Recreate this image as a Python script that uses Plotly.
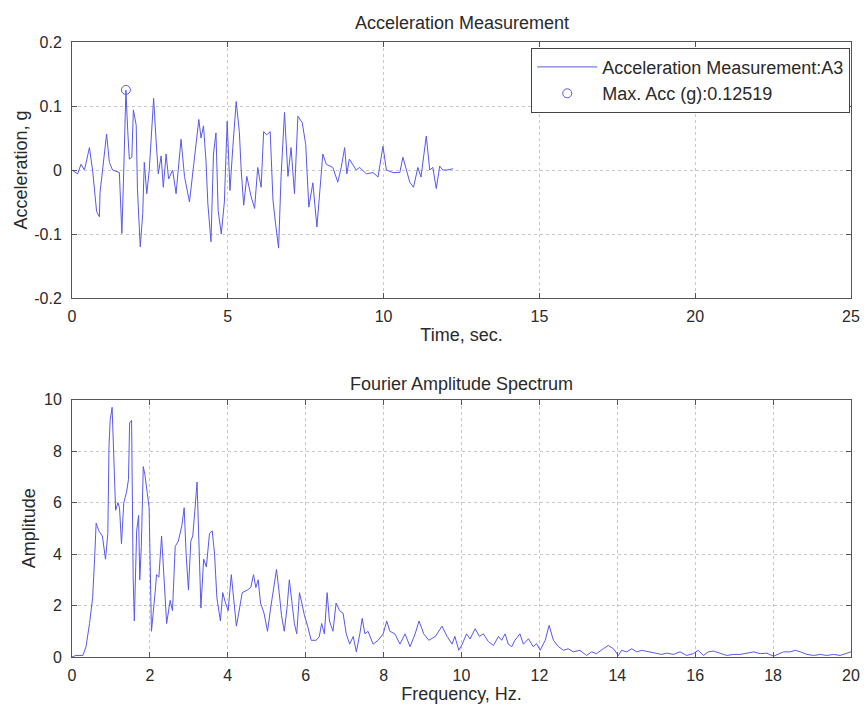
import plotly.graph_objects as go

# Acceleration time history (sec, g)
acc_time = [0, 0.18, 0.29, 0.4, 0.56, 0.66, 0.79, 0.88, 0.9, 1.0, 1.11, 1.2, 1.3, 1.52, 1.6, 1.65,
            1.71, 1.73, 1.79, 1.84, 1.92, 1.97, 2.06, 2.1, 2.19, 2.27, 2.32, 2.4, 2.48, 2.62, 2.7,
            2.77, 2.86, 2.93, 3.02, 3.1, 3.23, 3.34, 3.5, 3.61, 3.77, 3.93, 4.07, 4.14, 4.22, 4.3,
            4.36, 4.46, 4.54, 4.62, 4.69, 4.79, 4.89, 4.98, 5.07, 5.16, 5.27, 5.37, 5.43, 5.51,
            5.61, 5.75, 5.86, 5.96, 6.07, 6.15, 6.25, 6.36, 6.45, 6.53, 6.63, 6.71, 6.82, 6.93,
            7.03, 7.14, 7.25, 7.39, 7.5, 7.6, 7.73, 7.86, 7.94, 8.05, 8.16, 8.37, 8.53, 8.64,
            8.75, 8.82, 8.9, 9.01, 9.12, 9.23, 9.45, 9.66, 9.82, 9.98, 10.09, 10.3, 10.52, 10.62,
            10.73, 10.84, 10.96, 11.1, 11.2, 11.37, 11.48, 11.58, 11.69, 11.8, 11.9, 12.06, 12.23]
acc_vals = [0, -0.006, 0.009, 0.0, 0.035, 0.0, -0.065, -0.073, -0.035, 0.01, 0.056, 0.012, 0.0,
            -0.004, -0.099, -0.02, 0.1125, 0.125, 0.06, 0.017, 0.02, 0.094, 0.07, -0.03, -0.12,
            -0.068, 0.012, -0.037, 0.0, 0.112, 0.045, -0.006, 0.022, -0.027, 0.025, -0.014, 0.0,
            -0.037, 0.048, -0.01, -0.05, 0.022, 0.079, 0.05, 0.069, 0.014, -0.053, -0.112, 0.025,
            0.058, -0.063, -0.1, -0.05, 0.076, -0.032, 0.035, 0.107, 0.06, 0.0, -0.055, -0.01,
            -0.042, -0.06, 0.004, -0.027, 0.06, 0.055, 0.06, -0.047, -0.083, -0.122, -0.01, 0.09,
            -0.01, 0.035, -0.037, 0.084, 0.074, 0.04, -0.058, -0.02, -0.089, -0.037, 0.025, 0.009,
            0.004, -0.019, 0.004, 0.035, -0.006, 0.017, 0.009, 0.0, 0.004, -0.006, -0.004, -0.011,
            0.037, 0.0, -0.004, -0.004, 0.02, 0.0, -0.019, -0.027, 0.004, -0.011, 0.053, 0.0, 0.004,
            -0.029, 0.006, 0.0, 0.0, 0.002]

max_time = [1.73]
max_acc = [0.12519]

# Fourier amplitude spectrum (Hz, amplitude)
fas_freq = [0, 0.1, 0.28, 0.36, 0.45, 0.53, 0.58, 0.62, 0.69, 0.78, 0.86, 0.92, 0.95, 0.98, 1.03,
            1.07, 1.12, 1.18, 1.22, 1.27, 1.33, 1.4, 1.45, 1.48, 1.53, 1.57, 1.6, 1.66, 1.71, 1.74,
            1.78, 1.83, 1.87, 1.93, 1.98, 2.04, 2.09, 2.14, 2.17, 2.23, 2.3, 2.36, 2.43, 2.52, 2.58,
            2.65, 2.73, 2.82, 2.88, 2.93, 2.99, 3.05, 3.1, 3.16, 3.21, 3.25, 3.31, 3.38, 3.45, 3.53,
            3.6, 3.66, 3.72, 3.81, 3.87, 3.94, 4.01, 4.09, 4.16, 4.22, 4.28, 4.37, 4.5, 4.59, 4.66,
            4.72, 4.78, 4.84, 4.93, 5.02, 5.1, 5.19, 5.25, 5.32, 5.38, 5.45, 5.52, 5.58, 5.64, 5.71,
            5.77, 5.84, 5.9, 5.97, 6.05, 6.14, 6.27, 6.35, 6.41, 6.48, 6.55, 6.61, 6.7, 6.78, 6.87,
            6.96, 7.04, 7.13, 7.22, 7.3, 7.39, 7.45, 7.52, 7.6, 7.73, 7.86, 7.99, 8.08, 8.16, 8.29,
            8.42, 8.55, 8.68, 8.81, 8.91, 9.03, 9.16, 9.33, 9.5, 9.63, 9.76, 9.83, 9.93, 10.02,
            10.13, 10.22, 10.35, 10.46, 10.56, 10.69, 10.82, 10.95, 11.03, 11.12, 11.2, 11.29,
            11.37, 11.5, 11.59, 11.72, 11.84, 11.93, 12.02, 12.15, 12.25, 12.36, 12.49, 12.62,
            12.74, 12.87, 13.04, 13.21, 13.34, 13.47, 13.64, 13.77, 13.9, 14.03, 14.11, 14.24,
            14.37, 14.5, 14.63, 14.8, 14.97, 15.14, 15.27, 15.44, 15.61, 15.78, 15.95, 16.08,
            16.21, 16.34, 16.47, 16.64, 16.81, 16.98, 17.15, 17.33, 17.5, 17.67, 17.84, 18.01,
            18.14, 18.27, 18.44, 18.57, 18.7, 18.87, 19.04, 19.21, 19.38, 19.55, 19.72, 19.9, 20.0]
fas_amp = [0, 0.06, 0.06, 0.4, 1.3, 2.3, 3.8, 5.2, 4.9, 4.7, 3.8, 4.8, 8.2, 9.2, 9.7, 8.2, 5.7,
           6.0, 5.8, 4.4, 6.0, 6.4, 6.9, 9.1, 9.2, 3.1, 1.4, 4.9, 5.5, 3.0, 4.3, 7.4, 7.1, 6.4,
           5.8, 1.0, 1.7, 2.6, 3.2, 3.1, 4.7, 2.9, 1.3, 2.2, 1.8, 4.3, 4.5, 5.1, 5.8, 4.0, 2.6,
           4.5, 4.7, 5.8, 6.8, 4.9, 1.9, 3.8, 3.5, 4.8, 4.9, 4.0, 2.3, 1.4, 2.5, 2.1, 1.8, 3.2,
           2.2, 1.2, 1.7, 2.5, 2.6, 2.7, 3.2, 2.7, 3.0, 2.1, 1.7, 1.0, 1.9, 2.7, 3.4, 2.5, 1.6,
           1.0, 1.9, 3.0, 2.2, 1.3, 0.9, 2.5, 2.1, 1.6, 1.2, 0.65, 0.65, 0.8, 1.3, 0.9, 2.5, 1.4,
           1.0, 2.1, 1.8, 1.7, 0.9, 0.5, 0.8, 0.2, 0.9, 1.5, 0.9, 1.0, 0.5, 0.65, 0.9, 1.4, 1.0,
           0.9, 0.5, 0.9, 0.4, 0.9, 1.4, 0.9, 0.65, 0.8, 1.2, 0.8, 0.5, 0.8, 0.26, 0.5, 0.9, 0.7,
           1.1, 0.8, 0.9, 0.6, 0.45, 0.8, 0.65, 0.9, 0.5, 0.4, 0.65, 0.9, 0.5, 0.71, 0.4, 0.52,
           0.26, 0.65, 1.23, 0.65, 0.4, 0.26, 0.32, 0.2, 0.26, 0.06, 0.2, 0.13, 0.32, 0.45, 0.32,
           0.06, 0.26, 0.2, 0.32, 0.2, 0.26, 0.2, 0.13, 0.1, 0.15, 0.1, 0.2, 0.06, 0.13, 0.26,
           0.06, 0.2, 0.23, 0.13, 0.06, 0.1, 0.1, 0.15, 0.2, 0.13, 0.15, 0.03, 0.13, 0.2, 0.2,
           0.26, 0.2, 0.1, 0.06, 0.1, 0.06, 0.1, 0.06, 0.15, 0.2]

x1_ticks = [0, 5, 10, 15, 20, 25]
y1_ticks = [-0.2, -0.1, 0, 0.1, 0.2]
y1_labels = ["-0.2", "-0.1", "0", "0.1", "0.2"]
x2_ticks = [0, 2, 4, 6, 8, 10, 12, 14, 16, 18, 20]
y2_ticks = [0, 2, 4, 6, 8, 10]

LINE = "#5858ee"
FONT = "Liberation Sans, Arial, sans-serif"
TXT = "#2a2a2a"

fig = go.Figure()
fig.add_trace(go.Scatter(x=acc_time, y=acc_vals, mode="lines", name="Acceleration Measurement:A3",
                         line=dict(color=LINE, width=1), xaxis="x", yaxis="y"))
fig.add_trace(go.Scatter(x=max_time, y=max_acc, mode="markers", name="Max. Acc (g):0.12519",
                         marker=dict(symbol="circle-open", size=9, color=LINE, line=dict(width=1)),
                         xaxis="x", yaxis="y"))
fig.add_trace(go.Scatter(x=fas_freq, y=fas_amp, mode="lines", showlegend=False,
                         line=dict(color=LINE, width=1), xaxis="x2", yaxis="y2"))

axis_common = dict(showline=True, linecolor="#555", linewidth=1, mirror="ticks", ticks="inside",
                   ticklen=5, tickcolor="#555", showgrid=True, gridcolor="#c8c8c8", griddash="dot",
                   gridwidth=1, zeroline=False, automargin=False,
                   tickfont=dict(size=16, color=TXT, family=FONT))

fig.update_layout(
    width=866, height=708, paper_bgcolor="white", plot_bgcolor="white",
    margin=dict(l=72, r=15, t=42, b=51),
    font=dict(family=FONT, color=TXT),
    xaxis=dict(domain=[0, 1], range=[0, 25], tickvals=x1_ticks, anchor="y", ticklabelstandoff=4,
               title=dict(text="Time, sec.", font=dict(size=18), standoff=4), **axis_common),
    yaxis=dict(domain=[0.5837, 1], range=[-0.2, 0.2], tickvals=y1_ticks, ticktext=y1_labels, anchor="x",
               ticklabelstandoff=6,
               title=dict(text="Acceleration, g", font=dict(size=18), standoff=1), **axis_common),
    xaxis2=dict(domain=[0, 1], range=[0, 20], tickvals=x2_ticks, anchor="y2", ticklabelstandoff=4,
                title=dict(text="Frequency, Hz.", font=dict(size=18), standoff=4), **axis_common),
    yaxis2=dict(domain=[0, 0.4185], range=[0, 10], tickvals=y2_ticks, anchor="x2",
                ticklabelstandoff=6,
                title=dict(text="Amplitude", font=dict(size=18), standoff=3), **axis_common),
    legend=dict(x=0.999, y=0.9907, xanchor="right", yanchor="top", bgcolor="white",
                bordercolor="#444", borderwidth=1, font=dict(size=18, color=TXT),
                tracegroupgap=0, itemwidth=60),
    showlegend=True,
    annotations=[
        dict(text="Acceleration Measurement", x=0.5, y=1, xref="paper", yref="paper",
             xanchor="center", yanchor="middle", yshift=19, showarrow=False,
             font=dict(size=18, color=TXT)),
        dict(text="Fourier Amplitude Spectrum", x=0.5, y=0.4185, xref="paper", yref="paper",
             xanchor="center", yanchor="middle", yshift=16, showarrow=False,
             font=dict(size=18, color=TXT)),
    ],
)

fig.write_html("out.html", config={"displayModeBar": False},
               post_script="document.body.style.margin='0';")
